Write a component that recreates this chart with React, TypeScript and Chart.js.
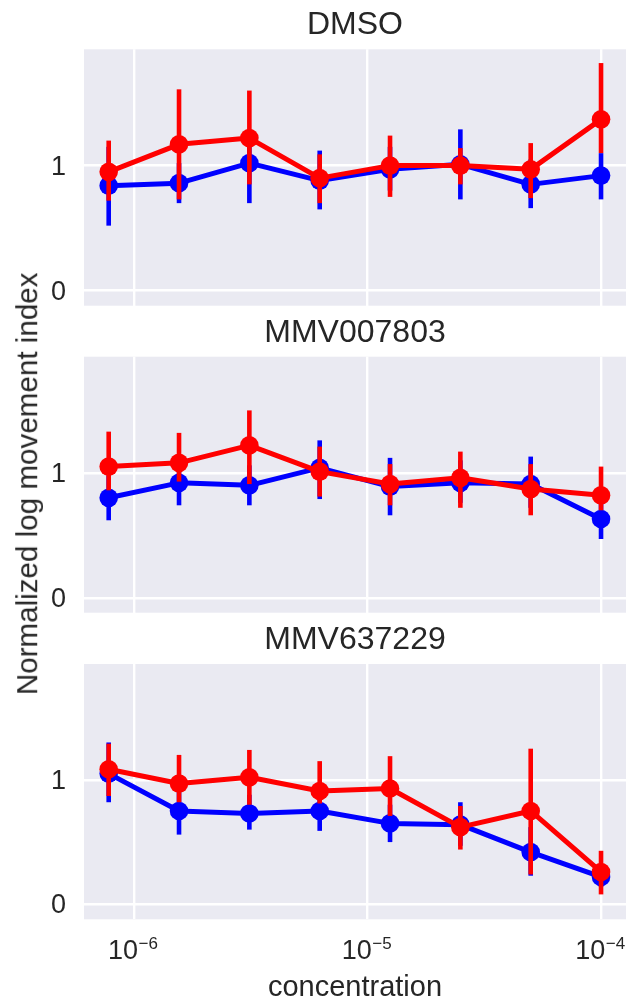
import React, { useEffect, useRef } from "react";
import { Chart, registerables } from "chart.js";

Chart.register(...registerables);

// ---------- data ----------
const concentrations = [7.8125e-7, 1.5625e-6, 3.125e-6, 6.25e-6, 1.25e-5, 2.5e-5, 5e-5, 1e-4];
const panelTitles = ["DMSO", "MMV007803", "MMV637229"];
const xTickValues = [1e-6, 1e-5, 1e-4];
const xTickBases = ["10", "10", "10"];
const xTickExponents = ["\u22126", "\u22125", "\u22124"];
const yTickValues = [0, 1];
const xAxisTitle = "concentration";
const yAxisTitle = "Normalized log movement index";

// DMSO
const dmsoBlueMean = [0.84, 0.86, 1.02, 0.88, 0.97, 1.01, 0.85, 0.92];
const dmsoBlueLow = [0.52, 0.7, 0.7, 0.65, 0.8, 0.73, 0.66, 0.73];
const dmsoBlueHigh = [1.15, 1.02, 1.28, 1.12, 1.15, 1.29, 1.05, 1.1];
const dmsoRedMean = [0.95, 1.17, 1.22, 0.9, 1.0, 1.0, 0.97, 1.37];
const dmsoRedLow = [0.72, 0.73, 0.85, 0.7, 0.75, 0.85, 0.74, 1.1];
const dmsoRedHigh = [1.2, 1.61, 1.6, 1.09, 1.24, 1.14, 1.18, 1.82];

// MMV007803
const mmv007803BlueMean = [0.8, 0.92, 0.9, 1.04, 0.89, 0.92, 0.91, 0.63];
const mmv007803BlueLow = [0.62, 0.74, 0.74, 0.79, 0.66, 0.76, 0.72, 0.47];
const mmv007803BlueHigh = [0.98, 1.08, 1.06, 1.26, 1.12, 1.1, 1.13, 0.8];
const mmv007803RedMean = [1.05, 1.08, 1.22, 1.01, 0.91, 0.96, 0.87, 0.82];
const mmv007803RedLow = [0.86, 0.93, 0.91, 0.81, 0.74, 0.72, 0.66, 0.7];
const mmv007803RedHigh = [1.33, 1.32, 1.5, 1.21, 1.07, 1.17, 1.07, 1.05];

// MMV637229
const mmv637229BlueMean = [1.05, 0.75, 0.73, 0.75, 0.65, 0.64, 0.42, 0.22];
const mmv637229BlueLow = [0.82, 0.56, 0.6, 0.59, 0.5, 0.47, 0.23, 0.14];
const mmv637229BlueHigh = [1.3, 0.92, 0.88, 0.9, 0.8, 0.82, 0.62, 0.32];
const mmv637229RedMean = [1.085, 0.97, 1.02, 0.91, 0.93, 0.62, 0.75, 0.26];
const mmv637229RedLow = [0.87, 0.82, 0.8, 0.81, 0.71, 0.44, 0.24, 0.08];
const mmv637229RedHigh = [1.29, 1.2, 1.24, 1.15, 1.19, 0.79, 1.25, 0.43];

const panelSeries = [
  { blue: [dmsoBlueMean, dmsoBlueLow, dmsoBlueHigh], red: [dmsoRedMean, dmsoRedLow, dmsoRedHigh] },
  { blue: [mmv007803BlueMean, mmv007803BlueLow, mmv007803BlueHigh], red: [mmv007803RedMean, mmv007803RedLow, mmv007803RedHigh] },
  { blue: [mmv637229BlueMean, mmv637229BlueLow, mmv637229BlueHigh], red: [mmv637229RedMean, mmv637229RedLow, mmv637229RedHigh] },
];

// ---------- styling / layout ----------
const FONT = '"Liberation Sans", Arial, sans-serif';
const TEXT = "#262626";
const BG = "#EAEAF2";
const X_MIN = 6.125e-7;
const X_MAX = 1.279e-4;
const Y_MIN = -0.12;
const Y_MAX = 1.93;

const panelLayout = [
  { top: 0, height: 310, padTop: 49.3, padBottom: 4.3, xAxisHeight: 0, showX: false },
  { top: 310, height: 307, padTop: 46.7, padBottom: 4.3, xAxisHeight: 0, showX: false },
  { top: 617, height: 385, padTop: 47, padBottom: 0, xAxisHeight: 82.7, showX: true },
];
const TITLE_SIZE = 32;
const titleTops = [34.3 - 0.8465 * TITLE_SIZE, 341.7 - 0.8465 * TITLE_SIZE, 649.3 - 0.8465 * TITLE_SIZE];
const YLABEL_SIZE = 29.6;

Chart.defaults.font.family = FONT;

const bgPlugin = {
  id: "bgPlugin",
  beforeDraw(chart: any) {
    const { ctx, chartArea } = chart;
    ctx.save();
    ctx.fillStyle = BG;
    ctx.fillRect(chartArea.left, chartArea.top, chartArea.right - chartArea.left, chartArea.bottom - chartArea.top);
    ctx.restore();
  },
};

const errorBarPlugin = {
  id: "errorBarPlugin",
  beforeDatasetDraw(chart: any, args: any) {
    const ds: any = chart.data.datasets[args.index];
    if (!ds.errLow) return;
    const ctx = chart.ctx;
    const xs = chart.scales.x;
    const ys = chart.scales.y;
    ctx.save();
    ctx.strokeStyle = ds.borderColor;
    ctx.lineWidth = 4.6;
    ctx.lineCap = "butt";
    ds.data.forEach((p: any, i: number) => {
      const x = xs.getPixelForValue(p.x);
      ctx.beginPath();
      ctx.moveTo(x, ys.getPixelForValue(ds.errLow[i]));
      ctx.lineTo(x, ys.getPixelForValue(ds.errHigh[i]));
      ctx.stroke();
    });
    ctx.restore();
  },
};

const xLabelPlugin = {
  id: "xLabelPlugin",
  afterDraw(chart: any) {
    const ctx = chart.ctx;
    const xs = chart.scales.x;
    const base = chart.chartArea.bottom;
    ctx.save();
    ctx.fillStyle = TEXT;
    ctx.textBaseline = "alphabetic";
    ctx.textAlign = "left";
    xTickValues.forEach((v, i) => {
      const x = xs.getPixelForValue(v);
      ctx.font = `27px ${FONT}`;
      const w1 = ctx.measureText(xTickBases[i]).width;
      ctx.font = `17px ${FONT}`;
      const w2 = ctx.measureText(xTickExponents[i]).width;
      const start = x - (w1 + w2) / 2 - 1;
      ctx.font = `27px ${FONT}`;
      ctx.fillText(xTickBases[i], start, base + 40);
      ctx.font = `17px ${FONT}`;
      ctx.fillText(xTickExponents[i], start + w1 + 0.5, base + 30);
    });
    ctx.restore();
  },
};

function Panel({ index }: { index: number }) {
  const ref = useRef<HTMLCanvasElement | null>(null);
  const lay = panelLayout[index];
  useEffect(() => {
    if (!ref.current) return;
    const s = panelSeries[index];
    const mk = (arr: number[]) => concentrations.map((c, i) => ({ x: c, y: arr[i] }));
    const common = {
      pointBorderWidth: 0,
      pointRadius: 9.3,
      borderWidth: 5,
      borderJoinStyle: "round",
      tension: 0,
    };
    const chart = new Chart(ref.current, {
      type: "line",
      data: {
        datasets: [
          {
            ...common,
            label: "blue",
            data: mk(s.blue[0]),
            errLow: s.blue[1],
            errHigh: s.blue[2],
            borderColor: "#0000FF",
            backgroundColor: "#0000FF",
            pointBackgroundColor: "#0000FF",
            order: 2,
          } as any,
          {
            ...common,
            label: "red",
            data: mk(s.red[0]),
            errLow: s.red[1],
            errHigh: s.red[2],
            borderColor: "#FF0000",
            backgroundColor: "#FF0000",
            pointBackgroundColor: "#FF0000",
            order: 1,
          } as any,
        ],
      },
      options: {
        animation: false,
        responsive: false,
        devicePixelRatio: 1,
        layout: { autoPadding: false, padding: { left: 0, right: 2, top: lay.padTop, bottom: lay.padBottom } },
        plugins: { legend: { display: false }, tooltip: { enabled: false }, title: { display: false } },
        events: [],
        scales: {
          x: {
            type: "logarithmic",
            min: X_MIN,
            max: X_MAX,
            bounds: "data",
            border: { display: false },
            grid: { color: "#FFFFFF", lineWidth: 2.4, drawTicks: false },
            ticks: { display: false },
            afterBuildTicks: (sc: any) => {
              sc.ticks = xTickValues.map((v) => ({ value: v, major: true }));
            },
            afterFit: (sc: any) => {
              sc.height = lay.xAxisHeight;
              sc.paddingLeft = 0;
              sc.paddingRight = 0;
            },
          },
          y: {
            type: "linear",
            min: Y_MIN,
            max: Y_MAX,
            border: { display: false },
            grid: { color: "#FFFFFF", lineWidth: 2.4, drawTicks: false },
            ticks: { color: TEXT, font: { size: 27, family: FONT }, padding: 18, labelOffset: 1.5 },
            afterBuildTicks: (sc: any) => {
              sc.ticks = yTickValues.map((v) => ({ value: v }));
            },
            afterFit: (sc: any) => {
              sc.width = 84;
              sc.paddingTop = 0;
              sc.paddingBottom = 0;
            },
          },
        },
      } as any,
      plugins: lay.showX ? [bgPlugin, errorBarPlugin, xLabelPlugin] : [bgPlugin, errorBarPlugin],
    });
    return () => chart.destroy();
  }, [index]);
  return (
    <canvas
      ref={ref}
      width={628}
      height={lay.height}
      style={{ position: "absolute", left: 0, top: lay.top, width: 628, height: lay.height, display: "block" }}
    />
  );
}

export default function App() {
  const textBase: React.CSSProperties = {
    position: "absolute",
    fontFamily: FONT,
    fontSize: 29,
    lineHeight: "29px",
    color: TEXT,
    whiteSpace: "nowrap",
    textAlign: "center",
  };
  return (
    <div style={{ position: "absolute", left: 0, top: 0, width: 628, height: 1002, background: "#FFFFFF", overflow: "hidden" }}>
      {[0, 1, 2].map((i) => (
        <Panel key={i} index={i} />
      ))}
      {panelTitles.map((t, i) => (
        <div
          key={t}
          style={{ ...textBase, fontSize: TITLE_SIZE, lineHeight: `${TITLE_SIZE}px`, left: 84, width: 542, top: titleTops[i], height: TITLE_SIZE }}
        >
          {t}
        </div>
      ))}
      <div style={{ ...textBase, left: 84, width: 542, top: 971.5, height: 29 }}>{xAxisTitle}</div>
      <div
        style={{
          ...textBase,
          fontSize: YLABEL_SIZE,
          lineHeight: `${YLABEL_SIZE}px`,
          left: 27 - 300,
          top: 484 - YLABEL_SIZE / 2,
          width: 600,
          height: YLABEL_SIZE,
          transform: "rotate(-90deg)",
        }}
      >
        {yAxisTitle}
      </div>
    </div>
  );
}
